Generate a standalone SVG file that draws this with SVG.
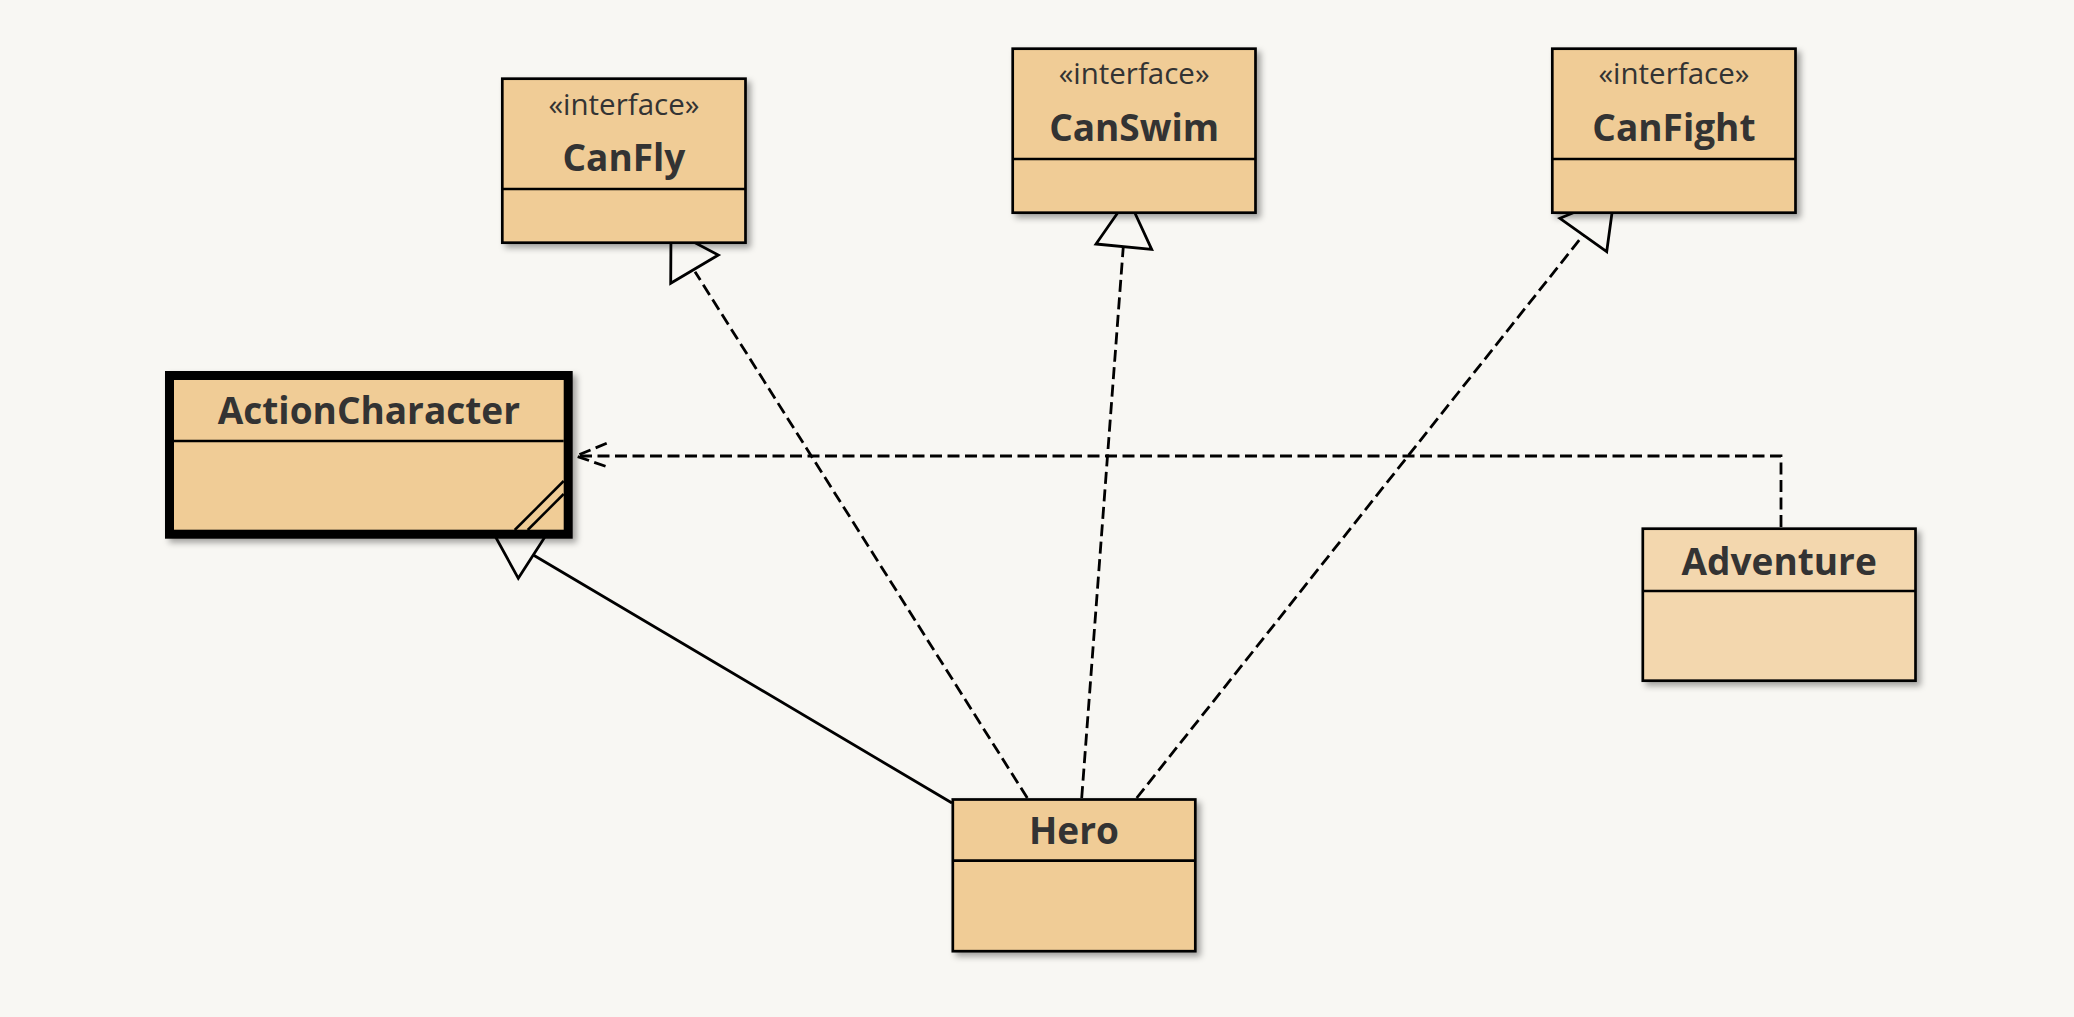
<svg xmlns="http://www.w3.org/2000/svg" width="2074" height="1017" viewBox="0 0 2074 1017">
  <defs>
    <filter id="shadow" x="-10%" y="-10%" width="130%" height="130%">
      <feDropShadow dx="4" dy="4" stdDeviation="3" flood-color="#000" flood-opacity="0.35"/>
    </filter>
    <style>
      .box { fill: #f0cc96; stroke: #000; stroke-width: 2.7; }
      .box2 { fill: #f3d7ae; stroke: #000; stroke-width: 2.7; }
      .sel { fill: #f0cc96; stroke: #000; stroke-width: 9; }
      .div { stroke: #000; stroke-width: 2.7; }
      .name { font-family: "Open Sans", "Noto Sans", sans-serif; font-weight: bold; font-size: 37px; fill: #333333; text-anchor: middle; }
      .stereo { font-family: "Open Sans", "Noto Sans", sans-serif; font-size: 29.5px; fill: #333333; text-anchor: middle; }
      .solid { fill: none; stroke: #000; stroke-width: 2.8; }
      .dash { fill: none; stroke: #000; stroke-width: 2.8; stroke-dasharray: 12 5.5; }
      .tri { fill: #f8f7f3; stroke: #000; stroke-width: 2.8; stroke-linejoin: miter; }
      .grip { stroke: #000; stroke-width: 2.5; }
    </style>
  </defs>
  <rect x="0" y="0" width="2074" height="1017" fill="#f8f7f3"/>

  <g id="connectors">
    <!-- Hero -> ActionCharacter (generalization) -->
    <line class="solid" x1="952" y1="803" x2="533.3" y2="555"/>
    <polygon class="tri" points="518.3,578.3 548.3,531.7 492,530.5"/>
    <!-- Hero -> CanFly (realization) -->
    <line class="dash" x1="1027.3" y1="798" x2="695" y2="271.7"/>
    <polygon class="tri" points="670.7,283.3 718.3,255 671,230"/>
    <!-- Hero -> CanSwim (realization) -->
    <line class="dash" x1="1081.7" y1="798" x2="1123.3" y2="246.7"/>
    <polygon class="tri" points="1096,244 1151.7,249.3 1128,198"/>
    <!-- Hero -> CanFight (realization) -->
    <line class="dash" x1="1136.7" y1="798" x2="1583.3" y2="235"/>
    <polygon class="tri" points="1606.7,251.7 1559.9,218.3 1614.3,196"/>
    <!-- Adventure -> ActionCharacter (dependency) -->
    <polyline class="dash" points="1781,527 1781,456 577,456"/>
    <polyline class="dash" points="606.7,443.3 576,456 606.7,466.7"/>
  </g>

  <g id="CanFly">
    <rect class="box" x="502.3" y="78.7" width="243.2" height="164" filter="url(#shadow)"/>
    <line class="div" x1="502.3" y1="189" x2="745.5" y2="189"/>
    <text class="stereo" x="623.9" y="115">«interface»</text>
    <text class="name" x="623.9" y="171">CanFly</text>
  </g>

  <g id="CanSwim">
    <rect class="box" x="1012.7" y="48.7" width="242.8" height="164" filter="url(#shadow)"/>
    <line class="div" x1="1012.7" y1="159" x2="1255.5" y2="159"/>
    <text class="stereo" x="1134.1" y="84.3">«interface»</text>
    <text class="name" x="1134.1" y="141">CanSwim</text>
  </g>

  <g id="CanFight">
    <rect class="box" x="1552.3" y="48.7" width="243.2" height="164" filter="url(#shadow)"/>
    <line class="div" x1="1552.3" y1="159" x2="1795.5" y2="159"/>
    <text class="stereo" x="1673.9" y="84.3">«interface»</text>
    <text class="name" x="1673.9" y="141">CanFight</text>
  </g>

  <g id="ActionCharacter">
    <rect class="sel" x="169.5" y="375.5" width="398.7" height="158.7" filter="url(#shadow)"/>
    <line class="div" x1="174" y1="441" x2="563.7" y2="441"/>
    <text class="name" x="368.9" y="424">ActionCharacter</text>
    <line class="grip" x1="563.7" y1="481" x2="514.7" y2="530"/>
    <line class="grip" x1="563.7" y1="494" x2="527.7" y2="530"/>
  </g>

  <g id="Adventure">
    <rect class="box2" x="1642.8" y="528.7" width="272.7" height="152" filter="url(#shadow)"/>
    <line class="div" x1="1642.8" y1="591" x2="1915.5" y2="591"/>
    <text class="name" x="1779.2" y="575">Adventure</text>
  </g>

  <g id="Hero">
    <rect class="box" x="952.8" y="799.5" width="242.5" height="151.7" filter="url(#shadow)"/>
    <line class="div" x1="952.8" y1="860.7" x2="1195.3" y2="860.7"/>
    <text class="name" x="1074" y="844.3">Hero</text>
  </g>
</svg>
